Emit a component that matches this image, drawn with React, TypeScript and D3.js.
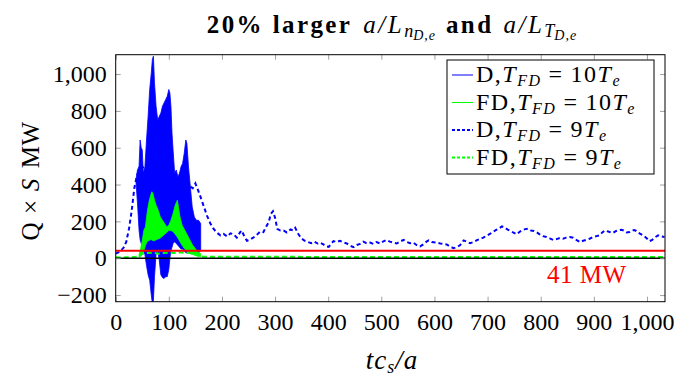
import React, { useEffect, useRef } from "react";
import * as d3 from "d3";

// D, T_FD = 10 T_e : fast oscillation, kept as upper / lower envelope
const dT10 = [38, 41, 44, 46, 48, 50, 52, 55, 58, 61, 64, 67, 69, 71, 73, 76, 79, 82, 85, 88, 91, 94, 97, 100, 102, 104, 106, 108, 111, 114, 117, 120, 123, 126, 129, 132, 134, 137, 140, 144, 148, 152, 156, 160];
const dHi10 = [425, 479, 500, 642, 600, 588, 461, 497, 642, 770, 916, 1006, 1079, 1097, 952, 825, 752, 770, 788, 825, 843, 861, 879, 916, 897, 825, 679, 588, 461, 479, 443, 461, 497, 515, 570, 642, 624, 497, 406, 279, 224, 206, 206, 188];
const dLo10 = [420, 300, 150, 100, 80, 60, 40, 20, -40, -90, -120, -200, -245, -230, -100, 20, 40, -10, -90, -105, -110, -100, -100, -60, 0, 40, 60, 80, 90, 80, 70, 60, 50, 50, 40, 30, 30, 30, 30, 30, 30, 30, 30, 40];

// FD, T_FD = 10 T_e
const fT10 = [44, 47, 50, 53, 56, 59, 62, 65, 68, 70, 73, 76, 80, 84, 88, 92, 96, 100, 104, 108, 112, 116, 118, 121, 125, 130, 135, 140, 145, 150, 155, 160];
const fHi10 = [20, 54, 97, 152, 170, 243, 297, 334, 361, 352, 315, 288, 261, 224, 206, 188, 170, 179, 206, 243, 288, 315, 279, 224, 179, 152, 125, 97, 70, 52, 34, 25];
const fLo10 = [5, 10, 20, 40, 70, 90, 95, 100, 100, 95, 95, 100, 105, 110, 120, 130, 140, 150, 150, 145, 130, 115, 105, 90, 70, 50, 35, 25, 20, 15, 10, 10];

// D, T_FD = 9 T_e
const dT9 = [
  0, 5, 10, 15, 20, 25, 30, 35, 40, 45,
  55, 70, 90, 110, 130, 140, 145, 150, 155, 160,
  166, 172, 178, 184, 190, 197, 203, 210, 216, 222,
  228, 234, 237, 242, 247, 252, 258, 265, 272, 278,
  283, 288, 292, 296, 300, 304, 310, 316, 322, 329,
  334, 338, 344, 350, 356, 362, 368, 374, 380, 385,
  391, 397, 401, 406, 410, 416, 422, 429, 435, 441,
  448, 454, 460, 466, 472, 479, 485, 491, 498, 504,
  510, 516, 522, 529, 535, 542, 548, 554, 560, 566,
  573, 579, 585, 589, 595, 604, 611, 617, 623, 630,
  636, 642, 648, 655, 661, 667, 674, 680, 686, 692,
  698, 705, 711, 717, 722, 727, 733, 738, 742, 748,
  755, 761, 766, 771, 777, 782, 787, 792, 798, 804,
  811, 817, 824, 830, 836, 842, 848, 855, 861, 867,
  874, 880, 886, 892, 898, 905, 911, 916, 921, 927,
  932, 936, 942, 947, 952, 957, 962, 967, 971, 976,
  980, 986, 993, 999, 1005, 1010, 1016, 1021, 1027, 1033,
];
const dV9 = [
  25, 32, 42, 58, 90, 160, 255, 380, 450, 480,
  500, 490, 470, 450, 410, 390, 380, 406, 370, 330,
  280, 230, 190, 160, 140, 124, 132, 118, 135, 130,
  112, 140, 151, 120, 95, 100, 110, 125, 145, 142,
  170, 196, 240, 255, 220, 160, 150, 151, 140, 156,
  150, 165, 130, 106, 95, 88, 82, 90, 80, 85,
  75, 64, 62, 80, 93, 88, 95, 85, 80, 68,
  60, 72, 78, 90, 82, 85, 78, 88, 80, 92,
  99, 90, 85, 80, 90, 100, 88, 82, 85, 72,
  64, 75, 90, 97, 88, 85, 80, 78, 75, 62,
  55, 60, 70, 97, 90, 82, 88, 98, 106, 112,
  122, 133, 145, 155, 163, 173, 165, 155, 150, 140,
  130, 145, 152, 158, 160, 150, 148, 142, 130, 120,
  115, 108, 99, 104, 110, 106, 112, 115, 111, 100,
  88, 95, 100, 106, 115, 120, 124, 140, 151, 145,
  140, 137, 148, 152, 155, 150, 140, 142, 150, 153,
  148, 135, 124, 110, 93, 100, 115, 124, 118, 115,
];

// FD, T_FD = 9 T_e
const fT9 = [0, 10, 20, 30, 38, 45, 50, 60, 70, 80, 90, 100, 110, 120, 130, 140, 150, 158, 165, 250, 400, 550, 700, 850, 1000, 1034];
const fV9 = [5, 4, 5, 6, 8, 15, 25, 28, 30, 25, 28, 30, 28, 32, 30, 28, 25, 12, 8, 8, 7, 7, 7, 7, 7, 7];

const powerLevel = 41;
const xTicks = [0, 100, 200, 300, 400, 500, 600, 700, 800, 900, 1000];
const yTicks = [-200, 0, 200, 400, 600, 800, 1000];
const legendNames = ["D", "FD", "D", "FD"];
const legendFactors = ["10", "10", "9", "9"];
const legendColors = ["#0000ff", "#00ff00", "#0000ff", "#00ff00"];
const legendDash = [null, null, "3 2", "3 2"];

const FONT = "'Liberation Serif', 'DejaVu Serif', serif";

const x = d3.scaleLinear().domain([0, 1034]).range([115.7, 665]);
const y = d3.scaleLinear().domain([-236, 1105]).range([301.7, 54.7]);

const line = d3
  .line<[number, number]>()
  .x((d) => x(d[0]))
  .y((d) => y(d[1]));

const zip = (a: number[], b: number[]) => a.map((t, i) => [t, b[i]] as [number, number]);

const App = () => {
  const axRef = useRef<SVGGElement>(null);

  useEffect(() => {
    const g = d3.select(axRef.current);
    g.selectAll("*").remove();
    const fmt = d3.format(",");
    const [x0, x1] = x.range();
    const [y0, y1] = y.range();

    g.append("g")
      .attr("transform", `translate(0,${y0})`)
      .call(d3.axisBottom(x).tickValues(xTicks).tickSize(-5).tickPadding(11).tickFormat((d) => fmt(d as number)));
    g.append("g")
      .attr("transform", `translate(0,${y1})`)
      .call(d3.axisTop(x).tickValues(xTicks).tickSize(-5).tickFormat(() => ""));
    g.append("g")
      .attr("transform", `translate(${x0},0)`)
      .call(d3.axisLeft(y).tickValues(yTicks).tickSize(-5).tickPadding(9).tickFormat((d) => fmt(d as number)));
    g.append("g")
      .attr("transform", `translate(${x1},0)`)
      .call(d3.axisRight(y).tickValues(yTicks).tickSize(-5).tickFormat(() => ""));

    g.selectAll(".domain").remove();
    g.selectAll("g").attr("font-family", FONT).attr("font-size", 24);
    g.selectAll(".tick line").attr("stroke", "#a0a0a0");
    g.selectAll(".tick text").attr("fill", "#000");
  }, []);

  const dBand = d3
    .area<number>()
    .x((i) => x(dT10[i]))
    .y0((i) => y(dLo10[i]))
    .y1((i) => y(dHi10[i]))(dT10.map((_, i) => i));
  const fBand = d3
    .area<number>()
    .x((i) => x(fT10[i]))
    .y0((i) => y(fLo10[i]))
    .y1((i) => y(fHi10[i]))(fT10.map((_, i) => i));

  const [x0, x1] = x.range();
  const [y0, y1] = y.range();

  return (
    <svg width={677} height={377} style={{ position: "absolute", left: 0, top: 0, background: "#fff" }}>
      <defs>
        <clipPath id="plot">
          <rect x={x0} y={y1} width={x1 - x0} height={y0 - y1} />
        </clipPath>
      </defs>

      {/* title */}
      <text x={392} y={33} textAnchor="middle" fontFamily={FONT} fontSize={25}>
        <tspan fontWeight="bold" letterSpacing={2.4}>20% larger</tspan>
        <tspan fontStyle="italic" dx={11} letterSpacing={2.5}>a/L</tspan>
        <tspan fontStyle="italic" fontSize={18} dy={4}>n</tspan>
        <tspan fontStyle="italic" fontSize={14} dy={3} letterSpacing={1}>D,e</tspan>
        <tspan fontWeight="bold" dy={-7} dx={10} letterSpacing={2.4}>and</tspan>
        <tspan fontStyle="italic" dx={10} letterSpacing={2.5}>a/L</tspan>
        <tspan fontStyle="italic" fontSize={18} dy={4}>T</tspan>
        <tspan fontStyle="italic" fontSize={14} dy={3} letterSpacing={1}>D,e</tspan>
      </text>

      <g clipPath="url(#plot)">
        <path d={dBand ?? ""} fill="#0000ff" stroke="#0000ff" strokeWidth={0.8} />
        <path d={fBand ?? ""} fill="#00ff00" stroke="#00ff00" strokeWidth={0.8} />
        <path d={line(zip(dT9, dV9)) ?? ""} fill="none" stroke="#0000ff" strokeWidth={2} strokeDasharray="4 3" />
        <path d={line(zip(fT9, fV9)) ?? ""} fill="none" stroke="#00ff00" strokeWidth={2} strokeDasharray="5 3" />
        <line x1={x0} x2={x1} y1={y(powerLevel)} y2={y(powerLevel)} stroke="#ff0000" strokeWidth={2} />
        <line x1={x0} x2={x1} y1={y(0)} y2={y(0)} stroke="#000" strokeWidth={1.6} />
      </g>

      <g ref={axRef} />
      <rect x={x0} y={y1} width={x1 - x0} height={y0 - y1} fill="none" stroke="#000" strokeWidth={1} />

      <text x={547} y={283} fill="#ff0000" fontFamily={FONT} fontSize={25} letterSpacing={0.5}>
        41 MW
      </text>

      {/* legend */}
      <rect x={447} y={60} width={207} height={114} fill="#fff" stroke="#000" strokeWidth={1} />
      {legendNames.map((name, i) => {
        const ry = 75 + i * 27.5;
        return (
          <g key={i}>
            <line x1={452} x2={473} y1={ry} y2={ry} stroke={legendColors[i]} strokeWidth={legendDash[i] ? 2 : 1} strokeDasharray={legendDash[i] ?? undefined} />
            <text x={476} y={ry + 7} fontFamily={FONT} fontSize={24} letterSpacing={1.5}>
              <tspan>{name},</tspan>
              <tspan fontStyle="italic">T</tspan>
              <tspan fontStyle="italic" fontSize={16} dy={4}>FD</tspan>
              <tspan dy={-4} dx={7}>=</tspan>
              <tspan dx={7}>{legendFactors[i]}</tspan>
              <tspan fontStyle="italic">T</tspan>
              <tspan fontStyle="italic" fontSize={16} dy={4}>e</tspan>
            </text>
          </g>
        );
      })}

      {/* axis labels */}
      <text transform="translate(39,181) rotate(-90)" textAnchor="middle" fontFamily={FONT} fontSize={25} letterSpacing={0.5}>
        <tspan>Q</tspan>
        <tspan dx={8}>×</tspan>
        <tspan dx={8} fontStyle="italic">S</tspan>
        <tspan dx={10}>MW</tspan>
      </text>
      <text x={392} y={369} textAnchor="middle" fontFamily={FONT} fontSize={27} fontStyle="italic" letterSpacing={1}>
        tc
        <tspan fontSize={18} dy={4}>s</tspan>
        <tspan dy={-4}>/a</tspan>
      </text>
    </svg>
  );
};

export default App;
